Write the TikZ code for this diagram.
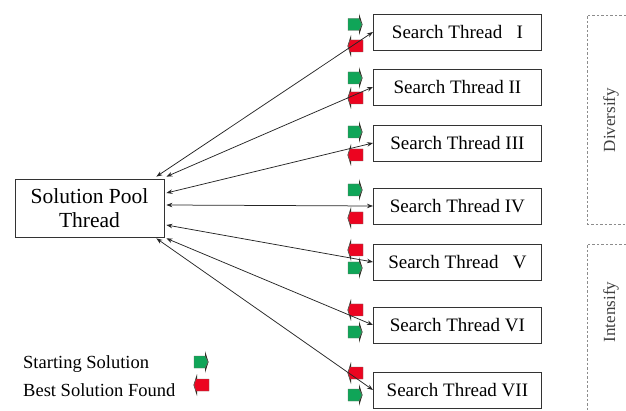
\documentclass[tikz,border=0pt]{standalone}
\usepackage{fontspec}
\setmainfont{Liberation Serif}
\usetikzlibrary{arrows.meta}

\definecolor{startgreen}{RGB}{16,165,88}
\definecolor{bestred}{RGB}{236,4,32}
\definecolor{markedge}{RGB}{45,45,35}

\tikzset{
  % green "starting solution" flag: block with a right-pointing tip
  startmark/.pic={
    \fill[markedge] (4,-11) -- (7.5,0) -- (4,11) -- cycle;
    \filldraw[fill=startgreen, draw=markedge!70, line width=0.4pt]
      (-7,-6) -- (4,-6) -- (7,0) -- (4,6) -- (-7,6) -- cycle;
  },
  % red "best solution found" flag: block with a left-pointing tip
  bestmark/.pic={
    \fill[markedge] (-5,-11) -- (-8.5,0) -- (-5,11) -- cycle;
    \filldraw[fill=bestred, draw=markedge!70, line width=0.4pt]
      (-6,-6) -- (7,-6) -- (7,6) -- (-6,6) -- (-8,0) -- cycle;
  },
}

\begin{document}
\begin{tikzpicture}[x=1pt, y=-1pt,
  box/.style={draw=black!80, line width=0.8pt, inner sep=0pt, align=center},
  thread/.style={box, minimum width=168pt, minimum height=36pt, anchor=west,
    font=\fontsize{19}{22}\selectfont},
  pool/.style={box, minimum width=149pt, minimum height=58pt,
    font=\fontsize{21.5}{24}\selectfont},
  link/.style={{Stealth[length=6pt,width=4.5pt]}-{Stealth[length=6pt,width=4.5pt]},
    line width=0.75pt, black!85},
  bracket/.style={draw=black!45, line width=0.7pt, dash pattern=on 2.5pt off 2pt},
  sidelabel/.style={rotate=90, font=\fontsize{17}{20}\selectfont, text=black!75},
  legend/.style={anchor=west, inner sep=0pt, font=\fontsize{18.5}{21}\selectfont},
]
\useasboundingbox (0,0) rectangle (626,411);

% pool and search threads
\node[pool] (pool) at (89.5,208) {Solution Pool\\Thread};

\node[thread] (t1) at (373,32)  {Search Thread\ \ \ I};
\node[thread] (t2) at (373,87)  {Search Thread II};
\node[thread] (t3) at (373,143) {Search Thread III};
\node[thread] (t4) at (373,206) {Search Thread IV};
\node[thread] (t5) at (373,262) {Search Thread\ \ \ V};
\node[thread] (t6) at (373,325) {Search Thread VI};
\node[thread] (t7) at (373,390) {Search Thread VII};

% flags in front of each thread
\pic at (355,24.5) {startmark};  \pic at (356,46)  {bestmark};
\pic at (355,78)   {startmark};  \pic at (356,98)  {bestmark};
\pic at (355,132)  {startmark};  \pic at (356,155) {bestmark};
\pic at (355,190)  {startmark};  \pic at (356,218) {bestmark};
\pic at (356,250)  {bestmark};   \pic at (355,268) {startmark};
\pic at (356,310)  {bestmark};   \pic at (355,332) {startmark};
\pic at (356,373)  {bestmark};   \pic at (355,395) {startmark};

% two-way links between the pool and the threads
\draw[link] ([xshift=-8pt,yshift=2pt]pool.north east) -- (t1.west);
\draw[link] ([xshift=2pt,yshift=2pt]pool.north east) -- (t2.west);
\draw[link] ([xshift=2pt,yshift=15pt]pool.east) -- (t3.west);
\draw[link] ([xshift=2pt,yshift=3pt]pool.east) -- (t4.west);
\draw[link] ([xshift=2pt,yshift=-17pt]pool.east) -- (t5.west);
\draw[link] ([xshift=2pt,yshift=-1pt]pool.south east) -- (t6.west);
\draw[link] ([xshift=-8pt,yshift=-1pt]pool.south east) -- (t7.west);

% diversify / intensify brackets
\draw[bracket] (626,15) -- (587,15) -- (587,224) -- (626,224);
\draw[bracket] (626,244) -- (587,244) -- (587,411);
\node[sidelabel] (div) at (611,120) {Diversify};
\node[sidelabel] (int) at (611,312) {Intensify};

% legend
\node[legend] (lstart) at (23,364) {Starting Solution};
\node[legend] (lbest)  at (23,390) {Best Solution Found};
\pic at (201,362) {startmark};
\pic at (202,385) {bestmark};
\end{tikzpicture}
\end{document}
